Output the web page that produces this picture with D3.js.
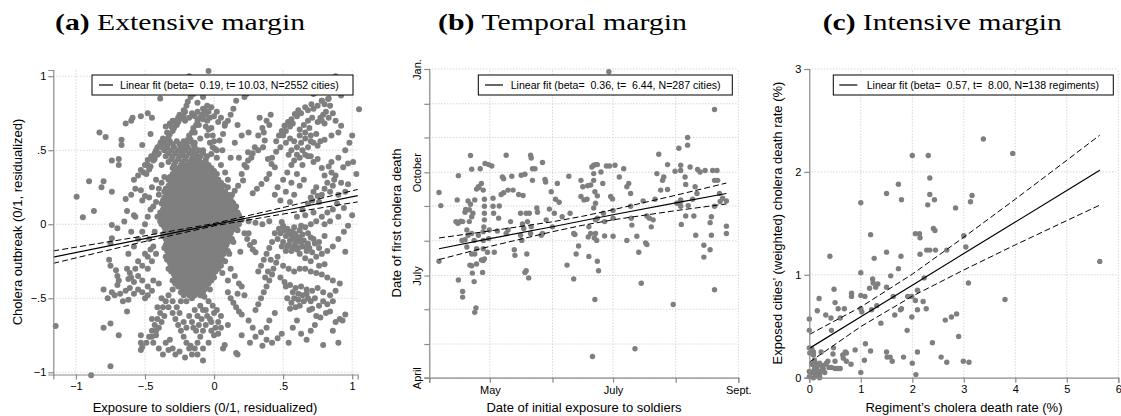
<!DOCTYPE html>
<html>
<head>
<meta charset="utf-8">
<script src="https://d3js.org/d3.v7.min.js"></script>
<style>
  body { margin: 0; background: #fff; }
  text { font-family: "Liberation Sans", Arial, sans-serif; fill: #000; }
  .title { font-family: "Liberation Serif", serif; font-size: 24px; }
  .grid line { stroke: #c4c4c4; stroke-dasharray: 1,2; stroke-width: 1; }
  .axis path, .axis line { stroke: #8a8a8a; stroke-width: 1.2; }
  .axis .tick text { font-size: 11px; font-family: "Liberation Sans", Arial, sans-serif; }
  .alabel { font-size: 13px; }
  .legend text { font-size: 10.6px; }
</style>
</head>
<body>
<svg id="chart" width="1121" height="416"></svg>
<script>

// ---------- data ----------
// (a) extensive margin, residualized values
var aTicks = [-1, -0.5, 0, 0.5, 1];
var aTickLabels = ["\u22121", "\u2212.5", "0", ".5", "1"];

// dense core, one row per y value
var aCore = [
  [.56, [-.32,-.27,-.22,-.17]],
  [.54, [-.34,-.30,-.25,-.20,-.15]],
  [.52, [-.34,-.29,-.24,-.19,-.14]],
  [.50, [-.36,-.31,-.26,-.21,-.16,-.11]],
  [.48, [-.33,-.28,-.23,-.18,-.13,-.08]],
  [.46, [-.35,-.30,-.25,-.20,-.15,-.10,-.05]],
  [.44, [-.31,-.26,-.21,-.16,-.11,-.06]],
  [.42, [-.33,-.28,-.23,-.18,-.14,-.10,-.06]],
  [.40, [-.29,-.24,-.20,-.16,-.12,-.08,-.04]],
  [.38, [-.30,-.26,-.22,-.18,-.14,-.10,-.06,-.02]],
  [.36, [-.28,-.24,-.20,-.16,-.12,-.08,-.04,.00]],
  [.34, [-.30,-.26,-.22,-.18,-.14,-.10,-.06,-.02,.02]],
  [.32, [-.32,-.28,-.24,-.20,-.16,-.12,-.08,-.04,.00]],
  [.30, [-.33,-.29,-.25,-.21,-.17,-.13,-.09,-.05,-.01,.03]],
  [.28, [-.31,-.27,-.23,-.19,-.15,-.11,-.07,-.03,.01,.05]],
  [.26, [-.33,-.29,-.25,-.21,-.17,-.13,-.09,-.05,-.01,.03,.07]],
  [.24, [-.35,-.31,-.27,-.23,-.19,-.15,-.11,-.07,-.03,.01,.05]],
  [.22, [-.36,-.32,-.28,-.24,-.20,-.16,-.12,-.08,-.04,.00,.04,.08]],
  [.20, [-.34,-.30,-.26,-.22,-.18,-.14,-.10,-.06,-.02,.02,.06,.10]],
  [.18, [-.36,-.32,-.28,-.24,-.20,-.16,-.12,-.08,-.04,.00,.04,.08,.12]],
  [.16, [-.37,-.33,-.29,-.25,-.21,-.17,-.13,-.09,-.05,-.01,.03,.07,.11]],
  [.14, [-.38,-.34,-.30,-.26,-.22,-.18,-.14,-.10,-.06,-.02,.02,.06,.10,.14]],
  [.12, [-.36,-.32,-.28,-.24,-.20,-.16,-.12,-.08,-.04,.00,.04,.08,.12,.16]],
  [.10, [-.37,-.33,-.29,-.25,-.21,-.17,-.13,-.09,-.05,-.01,.03,.07,.11,.15]],
  [.08, [-.39,-.35,-.31,-.27,-.23,-.19,-.15,-.11,-.07,-.03,.01,.05,.09,.13,.17]],
  [.06, [-.38,-.34,-.30,-.26,-.22,-.18,-.14,-.10,-.06,-.02,.02,.06,.10,.14,.18]],
  [.04, [-.37,-.33,-.29,-.25,-.21,-.17,-.13,-.09,-.05,-.01,.03,.07,.11,.15,.19]],
  [.02, [-.39,-.35,-.31,-.27,-.23,-.19,-.15,-.11,-.07,-.03,.01,.05,.09,.13,.17]],
  [.00, [-.38,-.34,-.30,-.26,-.22,-.18,-.14,-.10,-.06,-.02,.02,.06,.10,.14,.18]],
  [-.02, [-.36,-.32,-.28,-.24,-.20,-.16,-.12,-.08,-.04,.00,.04,.08,.12,.16]],
  [-.04, [-.35,-.31,-.27,-.23,-.19,-.15,-.11,-.07,-.03,.01,.05,.09,.13,.17]],
  [-.06, [-.36,-.32,-.28,-.24,-.20,-.16,-.12,-.08,-.04,.00,.04,.08,.12]],
  [-.08, [-.37,-.33,-.29,-.25,-.21,-.17,-.13,-.09,-.05,-.01,.03,.07,.11]],
  [-.10, [-.35,-.31,-.27,-.23,-.19,-.15,-.11,-.07,-.03,.01,.05,.09,.13]],
  [-.12, [-.34,-.30,-.26,-.22,-.18,-.14,-.10,-.06,-.02,.02,.06,.10,.14]],
  [-.14, [-.35,-.31,-.27,-.23,-.19,-.15,-.11,-.07,-.03,.01,.05,.09]],
  [-.16, [-.36,-.32,-.28,-.24,-.20,-.16,-.12,-.08,-.04,.00,.04,.08]],
  [-.18, [-.34,-.30,-.26,-.22,-.18,-.14,-.10,-.06,-.02,.02,.06,.10]],
  [-.20, [-.33,-.29,-.25,-.21,-.17,-.13,-.09,-.05,-.01,.03,.07,.11]],
  [-.22, [-.35,-.31,-.27,-.23,-.19,-.15,-.11,-.07,-.03,.01,.05]],
  [-.24, [-.34,-.30,-.26,-.22,-.18,-.14,-.10,-.06,-.02,.02,.06]],
  [-.26, [-.32,-.28,-.24,-.20,-.16,-.12,-.08,-.04,.00,.04]],
  [-.28, [-.31,-.27,-.23,-.19,-.15,-.11,-.07,-.03,.01,.05]],
  [-.30, [-.33,-.29,-.25,-.21,-.17,-.13,-.09,-.05,-.01,.03]],
  [-.32, [-.31,-.27,-.23,-.19,-.15,-.11,-.07,-.03,.01]],
  [-.34, [-.29,-.25,-.21,-.17,-.13,-.09,-.05,-.01]],
  [-.36, [-.28,-.24,-.20,-.16,-.12,-.08,-.04,.00]],
  [-.38, [-.30,-.26,-.22,-.18,-.14,-.10,-.06,-.02]],
  [-.40, [-.28,-.24,-.20,-.16,-.12,-.08,-.04]],
  [-.42, [-.26,-.22,-.18,-.14,-.10,-.06]],
  [-.44, [-.23,-.19,-.15,-.11,-.07,-.03]],
  [-.46, [-.24,-.20,-.16,-.12,-.08]],
  [-.48, [-.22,-.18,-.14,-.10]]
];

// scattered points and streaks around the core
var aPoints = [
  [-.18,1.0],[-.04,1.035],[.08,.97],[.0,.92],[-.25,.93],[-.39,.85],[-.15,.88],[-.12,.82],[-.08,.86],[-.05,.80],
  [.16,.835],[.22,.86],[.235,.88],[.3,.9],[.38,.92],[.5,.95],[.55,.93],[.6,.97],[.66,.9],[.72,.88],[.78,.835],
  [.83,.85],[.86,.93],[.88,1.0],[.92,.87],
  [-.59,.72],[-.53,.73],[-.48,.75],[-.45,.72],[-.64,.68],[-.60,.70],[-.83,.62],[-.785,.59],[-.67,.57],[-.67,.535],
  [-.52,.535],[-.46,.61],
  [-.35,.66],[-.32,.68],[-.28,.69],[-.25,.71],[-.21,.70],[-.18,.72],[-.14,.73],[-.10,.72],[-.06,.74],[-.03,.72],
  [.02,.76],[.03,.69],[-.02,.79],
  [.077,.666],[.065,.61],[.04,.565],[.005,.51],[-.02,.475],[.10,.70],[.17,.67],[.12,.74],[.14,.78],
  [-.386,.554],[-.43,.48],[-.48,.434],[-.53,.367],[-.41,.52],[-.455,.46],[-.50,.40],[-.55,.33],[-.58,.30],
  [-.74,.43],[-.69,.44],[-.69,.40],[-.905,.29],[-.80,.29],[-.815,.25],[-.74,.22],[-.995,.186],[-.87,.09],[-.95,.047],
  [-.64,.17],[-.60,.20],[-.57,.24],[-.53,.23],[-.63,.09],[-.58,.06],[-.52,.16],[-.50,.19],
  [-.51,.35],[-.48,.40],[-.45,.45],[-.42,.50],[-.39,.54],[-.37,.58],[-.34,.62],[-.31,.66],[-.28,.70],[-.25,.74],
  [-.22,.77],[-.20,.80],[-.47,.37],[-.44,.43],[-.41,.47],[-.36,.55],[-.33,.59],[-.30,.63],[-.27,.67],
  [-.24,.50],[-.21,.55],[-.18,.60],[-.15,.65],[-.12,.70],[-.09,.74],[-.07,.77],[-.22,.52],[-.19,.57],[-.16,.62],[-.13,.67],
  [-.05,.60],[-.03,.55],[-.08,.50],[-.10,.58],[-.02,.65],[-.06,.66],[-.14,.55],[-.16,.48],[-.12,.45],
  [.32,.60],[.35,.65],[.38,.70],[.41,.74],[.36,.62],[.40,.67],[.33,.72],
  [.367,.565],[.355,.52],[.295,.52],[.246,.486],[.27,.45],[.246,.43],[.235,.385],[.20,.34],[.21,.295],[.174,.26],
  [.15,.227],[.13,.20],[.32,.50],[.28,.48],
  [.39,.44],[.416,.407],[.44,.385],[.40,.34],[.38,.306],[.343,.272],[.31,.24],[.28,.21],
  [.49,.63],[.51,.666],[.536,.69],[.56,.71],[.585,.745],[.61,.77],[.66,.79],[.705,.81],[.78,.835],[.826,.846],[.47,.60],[.45,.56],
  [.56,.50],[.60,.52],[.63,.55],[.66,.58],[.70,.60],[.74,.61],[.72,.55],[.68,.52],[.64,.50],[.58,.56],[.62,.60],[.70,.56],[.75,.53],
  [.58,.43],[.62,.45],[.66,.47],[.70,.46],[.75,.44],[.60,.47],[.72,.42],
  [.75,.69],[.77,.72],[.79,.74],[.81,.76],[.78,.70],[.80,.68],
  [.92,.666],[1.0,.60],[1.05,.777],
  [.935,.385],[.97,.41],[1.007,.42],[.83,.39],[.85,.35],[.87,.30],[.86,.26],[.84,.22],[.88,.33],
  [.68,.14],[.70,.18],[.72,.22],[.74,.25],[.75,.19],[.71,.16],
  [.92,.28],[1.03,.34],[.89,.14],[.94,.11],[1.0,.06],
  [.48,.16],[.52,.22],[.56,.28],[.60,.34],[.64,.40],[.68,.46],
  [.05,.40],[.08,.35],[.10,.30],[.12,.45],[.06,.50],[.15,.55],[.20,.60],[.25,.62],[.18,.45],[.22,.40],[.10,.25],[.13,.15],
  [.06,.20],[.03,.30],[.02,.45],
  [.49,.015],[.2,.03],[.25,.02],[.30,.01],[.35,.0],[.40,.02],
  [.22,-.06],[.24,-.10],[.26,-.14],[.28,-.17],[.30,-.19],[.19,-.185],[.25,-.06],[.29,-.12],
  [.50,-.01],[.53,-.03],[.56,-.05],[.59,-.07],[.62,-.09],[.65,-.11],[.68,-.13],[.52,-.08],[.55,-.11],[.58,-.14],
  [.61,-.16],[.50,-.12],[.53,-.15],[.56,-.18],[.59,-.10],[.62,-.04],[.66,-.02],[.70,.0],[.74,.02],[.78,.05],[.82,.08],
  [.55,-.05],[.60,-.12],[.57,-.08],[.64,-.15],[.67,-.18],[.48,-.06],[.46,-.10],[.58,-.02],[.63,-.01],
  [.58,-.06],[.62,-.20],[.66,-.23],[.70,-.25],[.74,-.22],[.78,-.20],[.82,-.18],[.86,-.15],[.90,-.10],[.94,-.05],
  [.97,-.01],[.76,-.28],[.80,-.27],[.95,-.185],[.72,-.10],[.76,-.12],[.80,-.08],
  [.46,-.22],[.45,-.26],[.43,-.30],[.42,-.34],[.40,-.38],[.38,-.42],[.36,-.46],[.34,-.50],[.32,-.54],[.30,-.58],
  [.39,-.32],[.37,-.36],[.41,-.24],
  [.51,-.39],[.55,-.41],[.59,-.43],[.63,-.42],[.67,-.44],[.71,-.45],[.75,-.43],[.79,-.46],[.84,-.48],[.57,-.46],[.61,-.47],
  [.53,-.50],[.56,-.53],[.59,-.56],[.62,-.55],[.65,-.52],[.68,-.50],[.69,-.58],[.55,-.57],
  [.71,-.57],[.74,-.62],[.77,-.63],[.81,-.60],[.84,-.59],[.88,-.66],[.91,-.64],[.93,-.65],[.95,-.61],
  [.63,-.74],[.54,-.80],[.79,-.815],[.3,-.76],[.34,-.73],[.38,-.78],[.42,-.80],[.46,-.77],[.49,-.74],[.35,-.82],
  [.2,-.75],[.16,-.87],[.077,-.815],[.065,-.84],
  [.1,-.46],[.12,-.50],[.14,-.53],[.16,-.56],[.18,-.59],[.20,-.61],[.22,-.48],[.17,-.47],
  [-.07,-.49],[-.04,-.52],[-.01,-.55],[.02,-.58],[.05,-.62],[.03,-.66],[.0,-.60],[-.03,-.64],[-.06,-.58],
  [.08,-.25],[.12,-.30],[.15,-.35],[.18,-.40],[.20,-.42],[.10,-.38],[.06,-.33],
  [-.16,-.88],[-.14,-.84],[-.12,-.80],[-.10,-.76],[-.08,-.72],[-.06,-.68],[-.18,-.84],[-.20,-.80],[-.22,-.76],
  [-.24,-.72],[-.26,-.68],[-.28,-.64],[-.30,-.60],[-.20,-.70],[-.16,-.66],[-.12,-.62],[-.08,-.58],[.17,-.88],
  [.05,-.70],[.1,-.68],[.0,-.75],
  [-.49,-.80],[-.47,-.76],[-.45,-.72],[-.43,-.68],[-.41,-.64],[-.39,-.60],[-.37,-.56],[-.35,-.52],[-.33,-.48],
  [-.30,-.44],[-.28,-.40],[-.45,-.64],[-.41,-.56],[-.38,-.50],
  [-.35,-.80],[-.30,-.84],[-.25,-.86],[-.21,-.90],[-.17,-.82],[-.32,-.78],
  [-.74,-.005],[-.70,-.027],[-.65,.018],[-.74,-.095],[-.75,-.128],[-.76,-.24],[-.75,-.28],[-.71,-.31],[-.70,-.35],
  [-.69,-.38],[-.70,-.41],[-.63,-.30],[-.61,-.33],[-.60,-.36],[-.62,-.37],[-.58,-.39],
  [-.80,-.44],[-.77,-.50],[-.74,-.46],[-.72,-.48],[-.68,-.47],[-.64,-.45],[-.61,-.43],[-.58,-.47],[-.55,-.44],
  [-.52,-.46],[-.50,-.50],[-.48,-.48],[-.66,-.52],[-.62,-.51],[-.63,-.59],[-1.147,-.687],[-.80,-.70],[-.75,-.67],
  [-.69,-.75],[-.53,-.75],[-.53,-.80],[-.53,-.85],[-.52,-.83],[-.45,-.76],[-.42,-.75],[-.75,-.96],[-.89,-1.02],
  [-.33,-.85],[-.28,-.88],
  [-.55,-.10],[-.52,-.05],[-.50,.00],[-.48,.05],[-.46,.10],[-.44,-.15],[-.42,-.20],[-.45,-.25],[-.48,-.30],
  [-.50,-.20],[-.55,-.25],[-.58,-.15],[-.60,-.05],[-.57,.05],[-.62,-.20],[-.45,.25],[-.42,.30],[-.40,-.40],
  [-.44,-.38],[-.42,.15],[-.40,.20],[-.38,.40]
];
// more points thickening the streaks
var aStreaks = [
  [-.49,.34],[-.46,.39],[-.43,.44],[-.40,.48],[-.38,.52],[-.35,.57],[-.32,.61],[-.29,.65],[-.26,.69],[-.23,.73],
  [-.21,.76],[-.19,.83],[-.17,.86],
  [-.23,.47],[-.20,.52],[-.17,.57],[-.14,.62],[-.11,.67],[-.08,.71],[-.05,.70],[-.04,.64],[-.01,.60],[.0,.56],
  [-.01,.52],[.02,.50],
  [-.30,.70],[-.26,.72],[-.22,.73],[-.16,.75],[-.12,.76],[-.08,.78],[-.04,.76],[.0,.73],[.05,.72],[.08,.68],
  [.50,.60],[.52,.63],[.55,.66],[.57,.68],[.60,.73],[.63,.75],[.68,.77],[.72,.78],[.75,.80],[.80,.81],[.84,.80],
  [.86,.75],[.83,.72],[.88,.70],[.90,.62],[.85,.60],[.80,.57],[.77,.56],[.62,.64],[.65,.67],[.68,.70],[.71,.72],
  [.66,.62],[.69,.65],[.54,.47],[.56,.40],[.53,.35],[.50,.30],[.46,.25],[.44,.20],[.42,.45],[.45,.49],[.48,.52],
  [.52,.55],[.55,.58],
  [.78,.38],[.80,.33],[.82,.28],[.80,.24],[.78,.20],[.76,.15],[.85,.42],[.90,.45],[.95,.50],[.98,.55],[.90,.20],
  [.95,.22],[.97,.27],[.62,.26],[.65,.30],[.58,.20],[.55,.15],[.64,.10],[.60,.05],[.66,.06],[.72,.08],[.86,.10],
  [.9,.05],[.84,.02],[.80,0],
  [.51,-.04],[.54,-.07],[.57,-.10],[.60,-.09],[.63,-.12],[.66,-.15],[.69,-.16],[.71,-.19],[.54,-.14],[.57,-.16],
  [.52,-.18],[.49,-.15],[.47,-.03],[.44,-.06],[.42,-.12],[.40,-.16],[.38,-.20],[.36,-.24],[.34,-.28],[.32,-.32],
  [.60,-.17],[.64,-.07],[.68,-.06],[.70,-.09],[.73,-.13],[.76,-.16],
  [.48,-.36],[.52,-.42],[.58,-.50],[.61,-.51],[.64,-.48],[.67,-.47],[.70,-.52],[.73,-.50],[.76,-.55],[.79,-.52],
  [.82,-.54],[.86,-.52],[.88,-.45],[.91,-.40],[.86,-.38],[.82,-.36],[.78,-.34],[.74,-.33],[.70,-.32],[.66,-.30],
  [.62,-.30],[.58,-.32],[.54,-.30],[.50,-.28],[.73,-.68],[.70,-.72],[.67,-.78],[.86,-.72],[.90,-.80],[.60,-.65],
  [.57,-.70],[.44,-.60],[.40,-.65],[.38,-.70],[.28,-.70],[.25,-.65],[.26,-.80],
  [-.15,-.70],[-.13,-.72],[-.11,-.68],[-.09,-.64],[-.05,-.62],[-.02,-.66],[.01,-.70],[.03,-.74],[-.04,-.80],
  [-.08,-.84],[-.02,-.72],[-.10,-.55],[-.14,-.58],[-.18,-.62],[-.22,-.66],[-.25,-.60],[-.27,-.56],[-.24,-.52],
  [-.20,-.52],[-.16,-.50],[-.30,-.52],[-.33,-.56],[-.36,-.62],[-.38,-.66],[-.40,-.70],[-.42,-.72],[-.44,-.80],
  [-.40,-.84],[-.37,-.88],[-.12,-.88],[-.08,-.92],
  [-.45,-.45],[-.48,-.42],[-.52,-.38],[-.55,-.35],[-.57,-.30],[-.52,-.28],[-.48,-.22],[-.46,-.17],[-.47,.18],
  [-.44,.12],[-.41,.05],[-.43,-.05],[-.47,-.10],[-.40,.24],[-.38,.28],[-.36,.32]
];
var aFitX = [-1.164, -0.5, 0, 0.5, 1.04];
var aFit  = [-0.222, -0.097, -0.003, 0.091, 0.193];
var aHi   = [-0.180, -0.078, 0.005, 0.113, 0.235];
var aLo   = [-0.264, -0.116, -0.011, 0.069, 0.151];
var aLegend = "Linear fit (beta=  0.19, t= 10.03, N=2552 cities)";

// (b) temporal margin, dates as decimal months (4 = April 1, 13 = Jan. 1 next year)
var bXMonths = [4, 5, 6, 7, 8, 9];
var bXLabels = ["", "May", "", "July", "", "Sept."];
var bYMonths = [4, 5, 6, 7, 8, 9, 10, 11, 12, 13];
var bYLabels = ["April", "", "", "July", "", "", "October", "", "", "Jan."];
var bPoints = [
  [4.16,9.40],[4.19,9.01],[4.16,7.41],[4.48,9.90],[4.46,9.18],[4.48,6.87],[4.55,6.53],[4.55,6.36],[4.68,10.48],
  [4.70,10.09],[4.75,5.91],[4.77,6.04],[4.74,6.82],[4.71,7.07],[4.67,7.30],[4.84,10.10],[4.92,10.25],[4.98,10.22],
  [5.03,10.18],[4.86,9.67],[4.81,9.57],[4.89,9.47],[4.91,9.20],[4.91,8.99],[4.91,8.79],[4.91,8.60],[4.90,8.40],
  [4.89,8.26],[4.89,8.01],[4.89,7.77],[4.89,7.43],[4.86,7.45],[4.91,7.48],[4.88,7.09],[4.81,8.16],[4.78,7.77],
  [4.75,7.62],[4.74,8.01],[4.70,8.21],[4.64,8.16],[4.62,8.31],[4.66,8.55],[4.70,8.69],[4.72,8.79],[4.66,8.89],
  [4.64,9.15],[4.75,9.18],[4.59,8.82],[4.55,8.55],[4.48,8.52],[4.44,8.55],[4.54,8.01],[4.59,8.03],[4.62,7.82],
  [4.70,7.62],[4.78,7.33],[4.70,7.28],[4.96,7.67],[5.05,9.23],[5.05,8.99],[5.06,8.79],[4.99,8.31],[4.98,8.06],
  [5.07,7.67],[5.12,8.28],[5.14,8.65],[5.15,9.00],[5.18,9.34],[5.22,9.39],[5.26,10.49],[5.22,9.81],[5.20,9.86],
  [5.29,9.47],[5.37,9.47],[5.33,8.55],[5.29,8.31],[5.26,8.21],[5.39,7.74],[5.40,7.58],[5.35,9.88],[5.46,9.34],
  [5.53,9.31],[5.50,9.91],[5.56,9.94],[5.65,10.49],[5.66,10.41],[5.68,10.10],[5.72,10.10],[5.84,10.28],[5.68,9.76],
  [5.49,8.79],[5.52,8.48],[5.54,8.35],[5.49,8.16],[5.51,8.01],[5.58,8.79],[5.63,8.79],[5.60,8.55],[5.66,8.40],
  [5.65,8.21],[5.59,7.62],[5.58,7.14],[5.56,7.09],[5.62,6.93],[5.75,8.94],[5.76,8.82],[5.82,8.16],[5.84,8.21],
  [5.88,9.79],[5.89,9.71],[5.98,9.42],[5.95,8.91],[6.03,8.79],[6.08,9.67],[6.11,9.11],[6.16,8.69],[6.24,7.30],
  [6.27,9.88],[6.29,8.79],[6.35,8.21],[6.37,8.18],[6.35,6.90],[6.39,7.62],[6.43,7.85],[6.47,9.76],[6.47,9.28],
  [6.50,9.57],[6.52,9.18],[6.57,9.20],[6.58,9.60],[6.60,7.55],[6.59,8.11],[6.63,9.62],[6.65,10.15],[6.66,4.63],
  [6.68,10.20],[6.68,9.96],[6.68,9.76],[6.71,10.22],[6.74,10.22],[6.70,9.42],[6.74,9.30],[6.71,9.08],[6.68,8.94],
  [6.71,8.60],[6.74,8.65],[6.71,8.21],[6.69,8.08],[6.73,8.01],[6.63,8.21],[6.60,8.40],[6.74,7.41],[6.76,7.14],
  [6.70,6.29],[6.80,10.01],[6.83,9.67],[6.84,8.79],[6.86,8.14],[6.86,8.55],[6.89,10.18],[6.93,12.92],[6.94,10.18],
  [6.96,9.28],[6.99,9.21],[7.00,8.87],[7.00,8.65],[7.00,8.13],[7.03,10.20],[7.10,9.86],[7.17,10.10],[7.22,9.57],
  [7.25,9.67],[7.28,9.37],[7.22,8.01],[7.28,8.99],[7.29,8.65],[7.30,8.45],[7.38,8.13],[7.41,7.67],[7.45,6.77],
  [7.35,4.86],[7.48,9.15],[7.52,7.94],[7.54,7.89],[7.54,8.71],[7.58,8.65],[7.61,8.40],[7.64,8.60],[7.67,9.20],
  [7.70,9.96],[7.73,10.52],[7.76,9.47],[7.79,9.76],[7.81,9.86],[7.87,9.49],[7.87,10.22],[7.96,6.14],[7.99,10.03],
  [8.02,9.08],[8.05,10.69],[8.08,10.20],[8.08,10.05],[8.08,9.18],[8.08,8.99],[8.09,8.47],[8.08,9.13],[8.15,9.86],
  [8.16,9.64],[8.16,8.71],[8.19,11.00],[8.19,10.78],[8.20,9.01],[8.23,10.15],[8.27,9.20],[8.29,8.71],[8.31,9.57],
  [8.34,9.37],[8.32,8.16],[8.35,10.08],[8.39,10.01],[8.47,10.05],[8.45,7.87],[8.45,7.53],[8.57,8.69],[8.55,8.52],
  [8.57,8.16],[8.55,7.74],[8.59,10.05],[8.62,11.83],[8.62,9.76],[8.62,6.58],[8.62,8.99],[8.66,10.05],[8.67,9.76],
  [8.71,9.13],[8.70,9.37],[8.75,9.23],[8.81,9.15],[8.81,8.42],[8.81,8.21],
  [4.47,8.50],[4.52,8.56],[4.60,8.90],[4.68,9.05],[4.78,9.50],[4.82,9.55],[5.90,8.60],[6.00,8.40],[6.05,9.20]
];
var bFitX = [4.16, 5, 6, 6.5, 7, 8, 8.81];
var bFit  = [7.77, 8.059, 8.403, 8.575, 8.747, 9.091, 9.37];
var bHi   = [8.08, 8.281, 8.545, 8.705, 8.892, 9.317, 9.68];
var bLo   = [7.46, 7.837, 8.261, 8.445, 8.602, 8.865, 9.06];
var bLegend = "Linear fit (beta=  0.36, t=  6.44, N=287 cities)";

// (c) intensive margin, death rates in %
var cXTicks = [0, 1, 2, 3, 4, 5, 6];
var cYTicks = [0, 1, 2, 3];
var cPoints = [
  [0,.57],[0,.46],[0,.29],[.01,.24],[0,.06],[0,.01],[.08,.25],[.155,.65],[.19,.77],[.23,.25],[.32,.61],[.40,1.18],
  [.42,.58],[.43,.46],[.48,.86],[.50,.73],[.47,.29],[.56,.67],[.60,.58],[.68,.67],[.70,.25],[.66,.19],[.72,.24],
  [.82,.82],[.82,.79],[.81,.13],[.89,.27],[1.0,1.70],[1.0,1.02],[1.0,.80],[1.0,.67],[1.02,.64],[1.0,.05],[1.08,.79],
  [1.09,.33],[1.07,.17],[1.19,1.39],[1.19,.26],[1.17,.87],[1.23,.96],[1.24,.92],[1.26,1.16],[1.29,.88],[1.33,.91],
  [1.31,.70],[1.21,.66],[1.39,.53],[1.50,1.79],[1.50,1.22],[1.50,.88],[1.50,.25],[1.51,.20],[1.57,.20],[1.61,.16],
  [1.58,.99],[1.63,.79],[1.66,.61],[1.73,1.88],[1.73,1.06],[1.79,1.73],[1.78,1.18],[1.79,.67],[1.77,.66],[1.83,.20],
  [1.90,.46],[1.91,.79],[2.0,2.16],[1.99,.59],[2.0,.14],[1.99,.79],[2.06,1.40],[2.06,.75],[2.07,.03],[2.10,.85],
  [2.10,.66],[2.10,.25],[2.14,1.40],[2.15,1.36],[2.15,1.20],[2.21,.74],[2.23,.97],[2.27,.67],[2.28,1.24],[2.30,1.68],
  [2.31,2.16],[2.34,1.24],[2.34,1.94],[2.34,1.78],[2.39,.34],[2.41,1.45],[2.43,1.73],[2.44,1.43],[2.45,1.24],
  [2.56,.20],[2.64,.56],[2.67,1.24],[2.67,.15],[2.76,.59],[2.84,1.65],[2.86,.62],[2.90,.40],[2.99,.16],[3.0,1.38],
  [3.04,1.27],[3.09,.92],[3.10,.15],[3.13,1.71],[3.16,1.77],[3.38,2.32],[3.80,.76],[3.95,2.18],[5.64,1.13],
  [.05,.28],[.08,.22],[.10,.17],[.12,.14],[.14,.10],[.15,.07],[.18,.05],[.20,.02],[.22,.06],[.25,.10],[.27,.08],
  [.30,.05],[.12,.04],[.10,.09],[.16,.12],[.20,.14],[.28,.12],[.33,.14],[.38,.10],[.43,.10],[.50,.09],[.55,.09],
  [.60,.09],[.36,.16],[.50,.16],[.46,.23],[.65,.22],[.72,.16],[.08,0],[.20,0],[.05,.05],[.15,.02],[.05,.13]
];
var cFitX = [0, 1, 2, 3, 4, 5, 5.64];
var cFit  = [0.285, 0.592, 0.899, 1.206, 1.513, 1.82, 2.017];
var cHi   = [0.42, 0.687, 1.006, 1.365, 1.735, 2.113, 2.357];
var cLo   = [0.15, 0.497, 0.792, 1.047, 1.291, 1.527, 1.677];
var cLegend = "Linear fit (beta=  0.57, t=  8.00, N=138 regiments)";

// ---------- drawing ----------
var svg = d3.select("#chart");
var dotColor = "#7f7f7f";

function monthDate(m) {
  var mi = Math.floor(m);
  var d0 = new Date(1832, mi - 1, 1), d1 = new Date(1832, mi, 1);
  return new Date(+d0 + (m - mi) * (d1 - d0));
}

function drawGrid(g, x, y, xv, yv) {
  var gg = g.append("g").attr("class", "grid");
  var yr = y.range(), xr = x.range();
  gg.selectAll(".gx").data(xv).enter().append("line")
    .attr("x1", d => x(d)).attr("x2", d => x(d))
    .attr("y1", yr[0]).attr("y2", yr[1]);
  gg.selectAll(".gy").data(yv).enter().append("line")
    .attr("y1", d => y(d)).attr("y2", d => y(d))
    .attr("x1", xr[0]).attr("x2", xr[1]);
}

function drawDots(g, data, x, y, r) {
  g.append("g").selectAll("circle").data(data).enter().append("circle")
    .attr("cx", d => x(d[0])).attr("cy", d => y(d[1]))
    .attr("r", r).attr("fill", dotColor);
}

function drawFit(g, fx, fit, hi, lo, x, y) {
  var line = d3.line().x(d => x(d[0])).y(d => y(d[1]));
  [hi, lo].forEach(function(s) {
    g.append("path").attr("d", line(fx.map((v, i) => [v, s[i]])))
      .attr("fill", "none").attr("stroke", "#000").attr("stroke-width", 1)
      .attr("stroke-dasharray", "6,3");
  });
  g.append("path").attr("d", line(fx.map((v, i) => [v, fit[i]])))
    .attr("fill", "none").attr("stroke", "#000").attr("stroke-width", 1.2);
}

function drawLegend(g, x0, y0, w, h, l1, l2, tx, label) {
  var lg = g.append("g").attr("class", "legend");
  lg.append("rect").attr("x", x0).attr("y", y0).attr("width", w).attr("height", h)
    .attr("fill", "#fff").attr("stroke", "#000").attr("stroke-width", 1);
  lg.append("line").attr("x1", l1).attr("x2", l2).attr("y1", y0 + h / 2).attr("y2", y0 + h / 2)
    .attr("stroke", "#000").attr("stroke-width", 1.2);
  lg.append("text").attr("x", tx).attr("y", y0 + h / 2).attr("dy", "0.35em")
    .attr("xml:space", "preserve").style("white-space", "pre").text(label);
}

function drawTitle(x, w, letter, rest) {
  var t = svg.append("text").attr("class", "title").attr("x", x).attr("y", 30)
    .attr("textLength", w).attr("lengthAdjust", "spacingAndGlyphs");
  t.append("tspan").attr("font-weight", "bold").text(letter);
  t.append("tspan").text(" " + rest);
}

function axisLabels(xc, yb, xlab, yl, yc, ylab) {
  svg.append("text").attr("class", "alabel").attr("x", xc).attr("y", yb)
    .attr("text-anchor", "middle").text(xlab);
  svg.append("text").attr("class", "alabel")
    .attr("transform", "translate(" + yl + "," + yc + ") rotate(-90)")
    .attr("text-anchor", "middle").text(ylab);
}

// ----- panel (a)
var ax = d3.scaleLinear().domain([-1.164, 1.04]).range([53.3, 357.7]);
var ay = d3.scaleLinear().domain([-1.015, 1.042]).range([374.5, 70]);
var ga = svg.append("g");
drawGrid(ga, ax, ay, aTicks, aTicks);
var aAll = aCore.flatMap(r => r[1].map(v => [v, r[0]])).concat(aPoints, aStreaks);
drawDots(ga, aAll, ax, ay, 3);
drawFit(ga, aFitX, aFit, aHi, aLo, ax, ay);
ga.append("g").attr("class", "axis").attr("transform", "translate(0,374.5)")
  .call(d3.axisBottom(ax).tickValues(aTicks).tickFormat((d, i) => aTickLabels[i])
    .tickSizeOuter(0).tickSize(5).tickPadding(3));
ga.append("g").attr("class", "axis").attr("transform", "translate(53.3,0)")
  .call(d3.axisLeft(ay).tickValues(aTicks).tickFormat((d, i) => aTickLabels[i])
    .tickSizeOuter(0).tickSize(5).tickPadding(2));
drawLegend(ga, 92, 75, 261, 20, 99, 113, 120, aLegend);
drawTitle(55, 250, "(a)", "Extensive margin");
axisLabels(205, 412, "Exposure to soldiers (0/1, residualized)", 21.5, 222, "Cholera outbreak (0/1, residualized)");

// ----- panel (b)
var bx = d3.scaleTime().domain([monthDate(4), monthDate(9)]).range([429.3, 738.3]);
var by = d3.scaleTime().domain([monthDate(4), monthDate(13)]).range([377.7, 69]);
var gb = svg.append("g");
drawGrid(gb, bx, by, bXMonths.map(monthDate), bYMonths.map(monthDate));
drawDots(gb, bPoints.map(p => [monthDate(p[0]), monthDate(p[1])]), bx, by, 2.7);
drawFit(gb, bFitX.map(monthDate), bFit.map(monthDate), bHi.map(monthDate), bLo.map(monthDate), bx, by);
gb.append("g").attr("class", "axis").attr("transform", "translate(0,377.7)")
  .call(d3.axisBottom(bx).tickValues(bXMonths.map(monthDate)).tickFormat((d, i) => bXLabels[i])
    .tickSizeOuter(0).tickSize(5).tickPadding(4));
var bya = gb.append("g").attr("class", "axis").attr("transform", "translate(429.3,0)")
  .call(d3.axisLeft(by).tickValues(bYMonths.map(monthDate)).tickFormat((d, i) => bYLabels[i])
    .tickSizeOuter(0).tickSize(5));
bya.selectAll(".tick text").attr("x", 0).attr("dy", 0)
  .attr("text-anchor", "middle").attr("transform", "translate(-8.6,0) rotate(-90)");
drawLegend(gb, 478.3, 75, 254, 20, 485, 503, 510.7, bLegend);
drawTitle(438, 249, "(b)", "Temporal margin");
axisLabels(584, 412, "Date of initial exposure to soldiers", 401, 223, "Date of first cholera death");

// ----- panel (c)
var cx = d3.scaleLinear().domain([0, 6]).range([809.3, 1118.3]);
var cy = d3.scaleLinear().domain([0, 3]).range([377.7, 69]);
var gc = svg.append("g");
drawGrid(gc, cx, cy, cXTicks.slice(1), cYTicks.slice(1));
drawDots(gc, cPoints, cx, cy, 2.7);
drawFit(gc, cFitX, cFit, cHi, cLo, cx, cy);
gc.append("g").attr("class", "axis").attr("transform", "translate(0,377.7)")
  .call(d3.axisBottom(cx).tickValues(cXTicks).tickFormat(d3.format("d"))
    .tickSizeOuter(0).tickSize(5).tickPadding(3));
gc.append("g").attr("class", "axis").attr("transform", "translate(809.3,0)")
  .call(d3.axisLeft(cy).tickValues(cYTicks).tickFormat(d3.format("d"))
    .tickSizeOuter(0).tickSize(5).tickPadding(3));
drawLegend(gc, 833.3, 75, 280, 20, 839.3, 857.3, 866.7, cLegend);
drawTitle(822.7, 239, "(c)", "Intensive margin");
axisLabels(964, 412, "Regiment\u2019s cholera death rate (%)", 782, 223, "Exposed cities\u2019 (weighted) cholera death rate (%)");

</script>
</body>
</html>
